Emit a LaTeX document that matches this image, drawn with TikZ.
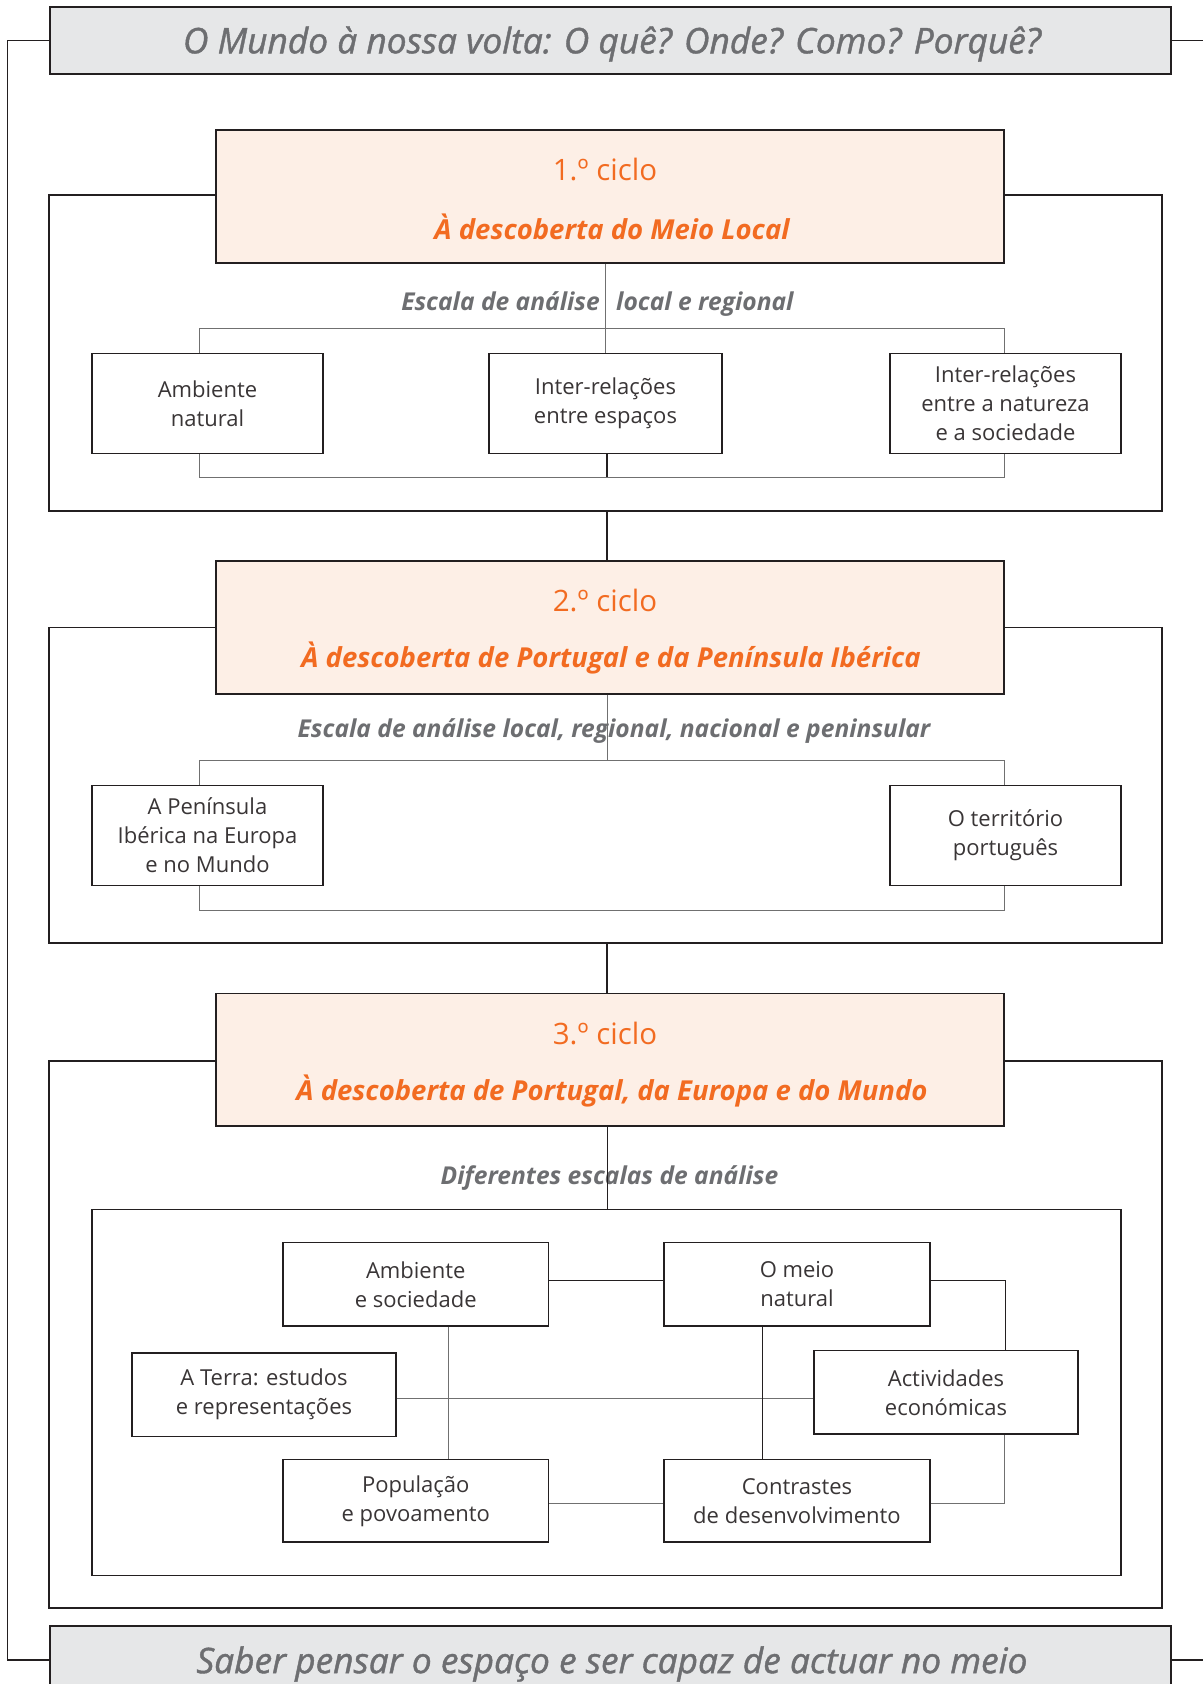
\documentclass[tikz,border=0pt]{standalone}
\usepackage{fontspec}
\setmainfont{Open Sans}
\newfontfamily\titlefont[FakeBold=1.2]{Open Sans}
\usetikzlibrary{calc}
\definecolor{peach}{HTML}{FDEFE6}
\definecolor{orng}{HTML}{F26B21}
\definecolor{titlegray}{HTML}{E6E7E8}
\definecolor{txtgray}{HTML}{6D6E71}
\definecolor{linegray}{HTML}{707070}
\definecolor{ink}{HTML}{231F20}
\begin{document}
\begin{tikzpicture}[x=1pt,y=-1pt,
  frame/.style={draw=ink,line width=1.3pt,inner sep=0pt},
  banner/.style={draw=ink,line width=1.4pt,fill=titlegray,inner sep=0pt,minimum width=1121pt},
  bantext/.style={text=txtgray,font=\titlefont\fontsize{35.3}{40}\selectfont\itshape,inner sep=0pt},
  obox/.style={draw=ink,line width=1.4pt,fill=peach,inner sep=0pt,minimum width=788pt,minimum height=133pt},
  cyc/.style={text=orng,font=\fontsize{29.5}{34}\selectfont,inner sep=0pt},
  head/.style={text=orng,font=\fontsize{27.5}{32}\selectfont\bfseries\itshape,inner sep=0pt},
  scaletxt/.style={text=txtgray,font=\fontsize{24.6}{28}\selectfont\bfseries\itshape,inner sep=0pt},
  tbox/.style={draw=ink,line width=1.3pt,inner sep=0pt,align=center,text=ink!90,
    font=\fontsize{22}{29}\selectfont},
  glink/.style={draw=linegray,line width=1pt},
  link/.style={draw=ink,line width=1.1pt},
  thk/.style={draw=ink,line width=2.4pt}
]
\useasboundingbox (0,0) rectangle (1203,1684);
\clip (0,0) rectangle (1203,1684);

% banners
\node[banner,minimum height=67pt] (T) at (610.5,40.5) {};
\node[bantext] (Tt) at (612,44) {O Mundo à nossa volta: O quê? Onde? Como? Porquê?};
\node[banner,minimum height=68pt] (S) at (610.5,1660) {};
\node[bantext] (St) at (612,1664) {Saber pensar o espaço e ser capaz de actuar no meio};
\coordinate (L) at (7.5,40);
\coordinate (R) at (1203,40);
\draw[link,line width=1.3pt] (T.west) -- (T.west -| L) |- (S.west);
\draw[link,line width=1.3pt] (T.east) -- (T.east -| R);
\draw[link,line width=1.3pt] (S.east) -- (S.east -| R);

% frames
\node[frame,minimum width=1113pt,minimum height=316pt] (f1) at (605.5,353) {};
\node[frame,minimum width=1113pt,minimum height=315.3pt] (f2) at (605.5,785.3) {};
\node[frame,minimum width=1113pt,minimum height=547pt] (f3) at (605.5,1334.5) {};
\node[frame,minimum width=1029pt,minimum height=366pt] (f3i) at (606.5,1392.5) {};

% orange headers
\node[obox] (o1) at (610,196.5) {};
\node[cyc] (o1a) at (605,169) {1.º ciclo};
\node[head] (o1b) at (612,227) {À descoberta do Meio Local};
\node[obox] (o2) at (610,627.3) {};
\node[cyc] (o2a) at (605,600) {2.º ciclo};
\node[head] (o2b) at (611,658) {À descoberta de Portugal e da Península Ibérica};
\node[obox,minimum height=132.5pt] (o3) at (610,1059.7) {};
\node[cyc] (o3a) at (605,1033) {3.º ciclo};
\node[head] (o3b) at (612,1091) {À descoberta de Portugal, da Europa e do Mundo};

% section 1
\node[scaletxt,anchor=base east] (e1a) at (600,310) {Escala de análise};
\node[scaletxt,anchor=base west] (e1b) at (616,310) {local e regional};
\node[tbox,minimum width=231pt,minimum height=100pt] (a1) at (207.5,403.3) {Ambiente\\natural};
\node[tbox,minimum width=233pt,minimum height=100pt] (b1) at (605.5,403.3) {Inter-relações\\entre espaços};
\node[tbox,minimum width=231pt,minimum height=100pt] (c1) at (1005.5,403.3) {Inter-relações\\entre a natureza\\e a sociedade};
\coordinate (j1) at (605.5,328.3);
\coordinate (j1b) at (605.5,477.3);
\draw[glink] (b1.north |- o1.south) -- (b1.north);
\draw[glink] ([xshift=-8pt]a1.north) |- (j1) -| ([xshift=-1.5pt]c1.north);
\draw[glink] ([xshift=-8pt]a1.south) |- (j1b) -| ([xshift=-1.5pt]c1.south);
\draw[thk] ([xshift=1.5pt]b1.south) -- ([xshift=1.5pt]b1.south |- j1b);
\draw[thk] ([xshift=1.5pt]f1.south) -- ([xshift=1.5pt]f1.south |- o2.north);

% section 2
\node[scaletxt] (e2) at (614,731) {Escala de análise local, regional, nacional e peninsular};
\node[tbox,minimum width=231pt,minimum height=99.6pt] (a2) at (207.5,835.5) {A Península\\Ibérica na Europa\\e no Mundo};
\node[tbox,minimum width=231pt,minimum height=99.6pt] (c2) at (1005.5,835.5) {O território\\português};
\coordinate (j2) at (607,760.3);
\coordinate (j2b) at (607,910);
\draw[glink] (o2.south -| j2) -- (j2);
\draw[glink] ([xshift=-8pt]a2.north) |- (j2) -| ([xshift=-1.5pt]c2.north);
\draw[glink] ([xshift=-8pt]a2.south) |- (j2b) -| ([xshift=-1.5pt]c2.south);
\draw[thk] ([xshift=1.5pt]f2.south) -- ([xshift=1.5pt]f2.south |- o3.north);

% section 3
\node[scaletxt] (e3) at (609.5,1178) {Diferentes escalas de análise};
\draw[glink,draw=ink] ([xshift=1.3pt]f3i.north |- o3.south) -- ([xshift=1.3pt]f3i.north);
\node[tbox,minimum width=265.5pt,minimum height=83.4pt] (s1) at (415.75,1284.3) {Ambiente\\e sociedade};
\node[tbox,minimum width=266pt,minimum height=83.4pt] (s2) at (797,1284.3) {O meio\\natural};
\node[tbox,minimum width=264pt,minimum height=83.4pt] (s3) at (264,1394.6) {A Terra: estudos\\e representações};
\node[tbox,minimum width=264pt,minimum height=83.4pt] (s4) at (946,1392.3) {Actividades\\económicas};
\node[tbox,minimum width=265.5pt,minimum height=82.2pt] (s5) at (415.75,1500.9) {População\\e povoamento};
\node[tbox,minimum width=266pt,minimum height=82.2pt] (s6) at (797,1500.9) {Contrastes\\de desenvolvimento};
\draw[link] ([yshift=4pt]s1.east) -- ([yshift=4pt]s2.west);
\draw[link] ([yshift=4pt]s2.east) -| ([xshift=59.8pt]s4.north);
\draw[glink] ([yshift=-4pt]s3.east) -- ([yshift=-4pt]s3.east -| s4.west);
\draw[glink] ([xshift=33pt]s1.south) -- ([xshift=33pt]s5.north);
\draw[link] ([xshift=-34.4pt]s2.south) -- ([xshift=-34.4pt]s6.north);
\draw[glink] ([yshift=-2.5pt]s5.east) -- ([yshift=-2.5pt]s6.west);
\draw[glink] ([yshift=-2.5pt]s6.east) -| ([xshift=58.2pt]s4.south);
\end{tikzpicture}
\end{document}
